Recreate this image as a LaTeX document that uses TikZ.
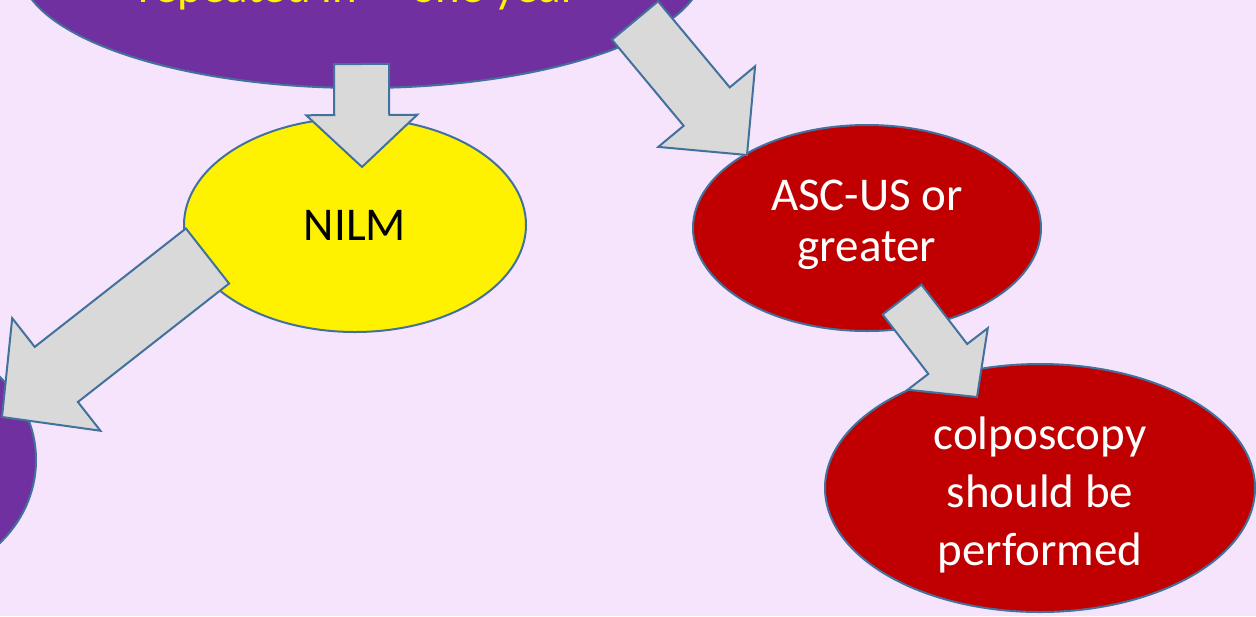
\documentclass[tikz,border=0pt]{standalone}
\usepackage{fontspec}
\setmainfont{Carlito}
\usepackage{tikz}
\usetikzlibrary{calc,shapes.geometric,positioning}

\definecolor{bgpink}{HTML}{F5E4FB}
\definecolor{boxpurple}{HTML}{7030A0}
\definecolor{boxred}{HTML}{C00000}
\definecolor{edgeblue}{HTML}{41719C}
\definecolor{arrowgray}{HTML}{D9D9D9}

\newcommand{\fatarrow}[5]{
    \coordinate (#1b) at ($(#2)!#5*0.5pt!(#1)$);
    \draw[fatarr] ($(#1)!#3*0.25pt!90:(#2)$) -- ($(#1b)!#3*0.25pt!90:(#2)$)
        -- ($(#1b)!#4*0.25pt!90:(#2)$) -- (#2)
        -- ($(#1b)!#4*0.25pt!-90:(#2)$) -- ($(#1b)!#3*0.25pt!-90:(#2)$)
        -- ($(#1)!#3*0.25pt!-90:(#2)$) -- cycle;
}

\begin{document}
\begin{tikzpicture}[x=0.5pt,y=-0.5pt,
    bubble/.style={ellipse,draw=edgeblue,line width=1pt,inner sep=0pt},
    bubbletext/.style={inner sep=0pt,align=center,font=\fontsize{23.5}{29}\selectfont},
    fatarr/.style={draw=edgeblue,fill=arrowgray,line width=1pt,line join=miter}]
            \useasboundingbox (0,0) rectangle (1256,616);
            \clip (0,0) rectangle (1256,616);
            \fill[bgpink] (0,0) rectangle (1256,616);

            \node[bubble,fill=boxpurple,minimum width=342pt,minimum height=120pt] (top) at (362,-32) {};
            \node[bubbletext,text=yellow,anchor=base west] (toptxt) at (138,2) {repeated in\hspace{1.15em}one year};
            \node[bubble,fill=yellow,minimum width=171pt,minimum height=107pt] (nilm) at (355,225) {};
            \node[bubbletext] (nilmtxt) at (nilm.center) {NILM};
            \node[bubble,fill=boxred,minimum width=174pt,minimum height=103pt] (ascus) at (867,228) {};
            \node[bubbletext,text=white,font=\fontsize{23.5}{25.5}\selectfont]
                (ascustxt) at ([yshift=1.75pt]ascus.center) {ASC-US or\\greater};
            \node[bubble,fill=boxred,minimum width=215pt,minimum height=124pt] (colpo) at (1040,488) {};
            \node[bubbletext,text=white] (colpotxt) at ([yshift=-3.5pt]colpo.center) {colposcopy\\should be\\performed};
            \node[bubble,fill=boxpurple,minimum width=130pt,minimum height=120pt] (left) at (-94,460) {};

            \coordinate (a1s) at (361.5,64);   \coordinate (a1e) at (362,167);
            \coordinate (a2s) at (635,20.5);   \coordinate (a2e) at (747,155);
            \coordinate (a3s) at (207.5,256);  \coordinate (a3e) at (2,417);
            \coordinate (a4s) at (902,299.5);  \coordinate (a4e) at (977,397);

            \foreach \i/\w/\h/\l in {1/55/111/52, 2/60/126/63, 3/70/143/69, 4/49/101/48}
                {
                \fatarrow{a\i s}{a\i e}{\w}{\h}{\l}
                }
        \end{tikzpicture}
\end{document}
